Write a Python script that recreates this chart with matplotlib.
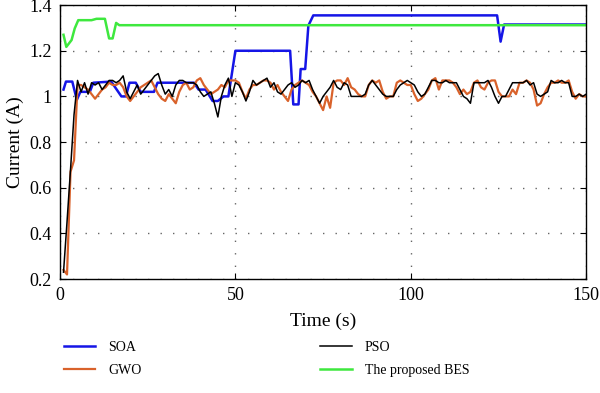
import matplotlib
matplotlib.use("Agg")
import matplotlib.pyplot as plt
from matplotlib.ticker import FuncFormatter

plt.rcParams['font.family'] = ['Liberation Serif', 'DejaVu Serif']

# PSO and GWO sampled once per second (t = 1..150)
t_sec = list(range(1, 151))

pso = [0.23, 0.45, 0.68, 0.92, 1.07, 1.02, 1.06, 1.01, 1.06, 1.05,
       1.06, 1.03, 1.05, 1.07, 1.07, 1.06, 1.07, 1.09, 1.02, 0.99,
       1.02, 1.05, 1.01, 1.03, 1.05, 1.07, 1.09, 1.10, 1.05, 1.01,
       1.03, 1.00, 1.05, 1.07, 1.07, 1.06, 1.06, 1.06, 1.05, 1.02,
       1.00, 1.01, 1.02, 0.97, 0.91, 1.00, 1.05, 1.08, 1.00, 1.06,
       1.05, 1.02, 0.98, 1.02, 1.07, 1.05, 1.06, 1.07, 1.08, 1.04,
       1.06, 1.02, 1.01, 1.03, 1.05, 1.06, 1.04, 1.05, 1.07, 1.06,
       1.07, 1.03, 1.00, 0.97, 1.00, 1.02, 1.04, 1.07, 1.04, 1.03,
       1.06, 1.05, 1.00, 1.00, 1.00, 1.00, 1.01, 1.05, 1.07, 1.05,
       1.03, 1.01, 1.00, 1.00, 1.00, 1.03, 1.05, 1.06, 1.07, 1.06,
       1.05, 1.02, 1.00, 1.01, 1.04, 1.07, 1.07, 1.06, 1.06, 1.07,
       1.06, 1.06, 1.06, 1.03, 1.00, 0.99, 0.97, 1.06, 1.06, 1.06,
       1.06, 1.07, 1.04, 1.00, 0.97, 1.00, 1.00, 1.03, 1.06, 1.06,
       1.06, 1.06, 1.07, 1.05, 1.06, 1.01, 1.00, 1.01, 1.02, 1.07,
       1.06, 1.06, 1.07, 1.06, 1.06, 1.00, 1.00, 1.01, 1.00, 1.01]

gwo = [0.24, 0.22, 0.67, 0.72, 1.05, 1.05, 1.04, 1.03, 1.01, 0.99,
       1.01, 1.03, 1.04, 1.06, 1.05, 1.05, 1.06, 1.04, 1.00, 0.98,
       1.00, 1.02, 1.04, 1.05, 1.06, 1.07, 1.04, 1.01, 0.99, 0.98,
       1.01, 0.99, 0.97, 1.02, 1.05, 1.06, 1.03, 1.04, 1.07, 1.08,
       1.05, 1.03, 1.01, 1.02, 1.03, 1.05, 1.04, 1.07, 1.07, 1.07,
       1.06, 1.02, 0.99, 1.03, 1.05, 1.05, 1.06, 1.07, 1.07, 1.06,
       1.03, 1.05, 1.02, 1.00, 0.98, 1.03, 1.05, 1.06, 1.07, 1.06,
       1.05, 1.02, 1.00, 0.97, 0.94, 1.00, 0.95, 1.06, 1.07, 1.07,
       1.05, 1.08, 1.04, 1.03, 1.01, 1.00, 1.00, 1.05, 1.07, 1.06,
       1.07, 1.02, 0.99, 1.00, 1.00, 1.06, 1.07, 1.06, 1.05, 1.05,
       1.01, 0.98, 0.99, 1.01, 1.03, 1.07, 1.08, 1.03, 1.07, 1.07,
       1.07, 1.06, 1.04, 1.01, 1.03, 1.01, 1.02, 1.06, 1.07, 1.04,
       1.03, 1.06, 1.07, 1.07, 1.02, 1.00, 1.00, 1.00, 1.03, 1.01,
       1.06, 1.06, 1.07, 1.06, 1.03, 0.96, 0.97, 1.01, 1.04, 1.06,
       1.06, 1.07, 1.06, 1.06, 1.07, 1.02, 0.99, 1.01, 1.00, 1.00]

# SOA and BES are piecewise, given at their breakpoints
soa_t = [1, 1.7, 3.5, 4.8, 5.8, 8.5, 9.5, 14.6, 17.5, 18.8, 19.8, 21.6, 23,
         26.8, 27.8, 38.2, 39.5, 41.5, 43.5, 45, 46.6, 48, 50, 65.6, 66.5,
         68, 68.6, 69.9, 70.8, 72.2, 124.6, 125.6, 126.6, 150]
soa = [1.03, 1.065, 1.065, 0.985, 1.02, 1.02, 1.06, 1.065, 1.00, 1.00, 1.06,
       1.06, 1.02, 1.02, 1.06, 1.06, 1.03, 1.03, 0.98, 0.98, 1.00, 1.00,
       1.20, 1.20, 0.965, 0.965, 1.12, 1.12, 1.31, 1.355, 1.355, 1.24,
       1.315, 1.315]

bes_t = [1, 1.8, 3.3, 4.2, 5.2, 9, 10.4, 12.8, 14, 15, 16, 16.9, 150]
bes = [1.27, 1.217, 1.247, 1.298, 1.334, 1.334, 1.34, 1.34, 1.254, 1.254,
       1.322, 1.312, 1.312]

fig = plt.figure(figsize=(6, 3.93), dpi=100)
ax = fig.add_axes([0.1, 0.29, 0.877, 0.697])

l_soa, = ax.plot(soa_t, soa, color='#1515e6', lw=1.8, label='SOA')
l_gwo, = ax.plot(t_sec, gwo, color='#d9622b', lw=1.6, label='GWO')
l_pso, = ax.plot(t_sec, pso, color='black', lw=1.1, label='PSO')
l_bes, = ax.plot(bes_t, bes, color='#3ee83e', lw=1.8, label='The proposed BES')

ax.set_xlim(0, 150)
ax.set_ylim(0.2, 1.4)
ax.set_xticks([0, 50, 100, 150])
ax.set_yticks([0.2, 0.4, 0.6, 0.8, 1.0, 1.2, 1.4])
ax.yaxis.set_major_formatter(FuncFormatter(lambda v, p: '{:g}'.format(round(v, 2))))
ax.tick_params(direction='in', top=True, right=True, labelsize=13, length=4, pad=6)
ax.grid(True, color='#666666', linestyle=(0, (1, 8)), linewidth=1.0)
for s in ax.spines.values():
    s.set_linewidth(1.0)

ax.set_xlabel('Time (s)', fontsize=14, labelpad=6)
ax.set_ylabel('Current (A)', fontsize=14, labelpad=4)

fig.legend(handles=[l_soa, l_gwo, l_pso, l_bes], ncol=2, frameon=False,
           loc='upper left', bbox_to_anchor=(0.085, 0.165), fontsize=10,
           handlelength=2.3, handletextpad=0.9, columnspacing=12.9,
           labelspacing=0.75)

fig.savefig('out.png', dpi=100)
